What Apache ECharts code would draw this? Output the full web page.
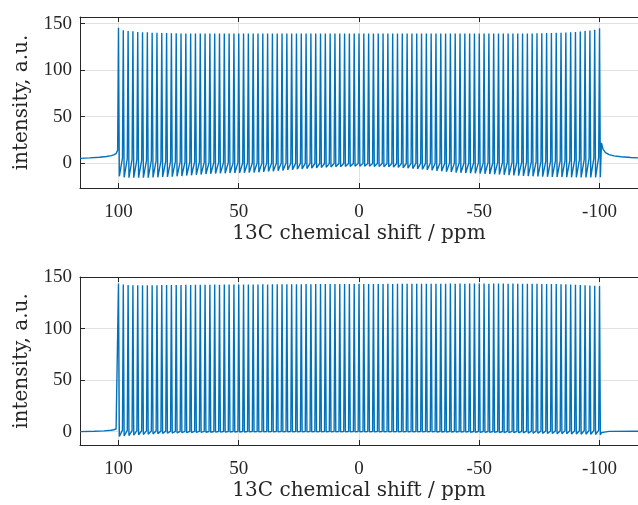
<!DOCTYPE html>
<html><head><meta charset="utf-8">
<script src="https://cdn.jsdelivr.net/npm/echarts@6/dist/echarts.min.js"></script>
<style>html,body{margin:0;padding:0;background:#fff;overflow:hidden}#c{width:638px;height:505px}</style>
</head><body><div id="c"></div>
<script>
// peak positions (ppm)
const peakPpm = [
100,98,96,94,92,90,88,86,84,82,
80,78,76,74,72,70,68,66,64,62,
60,58,56,54,52,50,48,46,44,42,
40,38,36,34,32,30,28,26,24,22,
20,18,16,14,12,10,8,6,4,2,
0,
-2,-4,-6,-8,-10,-12,-14,-16,-18,-20,
-22,-24,-26,-28,-30,-32,-34,-36,-38,-40,
-42,-44,-46,-48,-50,-52,-54,-56,-58,-60,
-62,-64,-66,-68,-70,-72,-74,-76,-78,-80,
-82,-84,-86,-88,-90,-92,-94,-96,-98,-100];

// ---- top spectrum ----
const topHeights = [
145.5,142.8,142.0,141.6,141.0,140.7,140.5,140.2,140.0,139.8,
139.7,139.6,139.5,139.4,139.4,139.3,139.3,139.3,139.2,139.3,
139.3,139.2,139.3,139.3,139.2,139.3,139.3,139.3,139.2,139.3,
139.3,139.3,139.2,139.3,139.3,139.3,139.2,139.3,139.3,139.3,
139.2,139.3,139.3,139.3,139.2,139.3,139.3,139.3,139.3,139.2,
139.3,
139.3,139.2,139.3,139.3,139.3,139.2,139.3,139.3,139.3,139.2,
139.3,139.3,139.3,139.2,139.3,139.3,139.3,139.2,139.3,139.3,
139.3,139.2,139.3,139.3,139.3,139.2,139.3,139.3,139.3,139.3,
139.3,139.3,139.3,139.3,139.3,139.4,139.5,139.6,139.7,139.8,
140.0,140.2,140.4,140.7,141.0,141.4,141.9,142.5,143.2,145.0];
const topDips = [
-14.0,-15.0,-15.5,-15.5,-15.5,-15.5,-15.4,-15.2,-15.0,-14.8,
-14.6,-14.3,-14.0,-13.6,-13.2,-12.8,-12.4,-12.0,-11.6,-11.3,
-11.0,-10.8,-10.6,-10.5,-10.4,-10.3,-10.2,-10.0,-9.8,-9.5,
-9.2,-8.8,-8.4,-8.0,-7.6,-7.2,-6.8,-6.4,-6.0,-5.6,
-5.2,-4.9,-4.6,-4.3,-4.0,-3.8,-3.6,-3.4,-3.3,-3.2,
-3.1,
-3.1,-3.2,-3.3,-3.4,-3.6,-3.8,-4.1,-4.4,-4.8,-5.2,
-5.6,-6.0,-6.5,-7.0,-7.5,-8.0,-8.5,-9.0,-9.4,-9.8,
-10.1,-10.4,-10.6,-10.8,-11.0,-11.2,-11.5,-11.8,-12.1,-12.4,
-12.7,-13.0,-13.3,-13.5,-13.7,-13.9,-14.1,-14.3,-14.5,-14.6,
-14.7,-14.8,-14.9,-15.0,-15.0,-15.1,-15.1,-15.2,-15.2,-15.0];
const topBase = [
14.0,5.5,4.8,4.3,3.9,3.5,3.2,2.9,2.6,2.4,
2.2,2.0,1.8,1.6,1.4,1.3,1.2,1.1,1.0,0.9,
0.8,0.7,0.6,0.6,0.5,0.5,0.4,0.4,0.3,0.3,
0.2,0.2,0.1,0.1,0.0,0.0,0.0,-0.1,-0.1,-0.1,
-0.2,-0.2,-0.2,-0.2,-0.3,-0.3,-0.3,-0.3,-0.3,-0.3,
-0.3,
-0.3,-0.3,-0.3,-0.3,-0.3,-0.3,-0.2,-0.2,-0.2,-0.2,
-0.1,-0.1,-0.1,0.0,0.0,0.0,0.1,0.1,0.2,0.2,
0.3,0.3,0.4,0.4,0.5,0.5,0.6,0.6,0.7,0.8,
0.9,1.0,1.1,1.2,1.3,1.4,1.6,1.8,2.0,2.2,
2.4,2.6,2.9,3.2,3.5,3.9,4.3,4.8,5.5,6.5];
const topLeftTailPpm = [116,112,108,105,103,102,101.5,101,100.7];
const topLeftTailVal = [5.3,5.8,6.5,7.3,8.2,9.0,9.6,10.4,11.5];
const topRightTailPpm = [-100.8,-101.5,-102.5,-104,-106,-109,-113,-116];
const topRightTailVal = [22,15,11.5,9.3,8.0,7.0,6.2,5.8];

// ---- bottom spectrum ----
const botHeights = [
143.6,142.7,142.3,142.0,142.1,142.0,141.9,142.0,142.1,142.2,
142.2,142.3,142.2,142.3,142.4,142.3,142.4,142.5,142.4,142.5,
142.6,142.5,142.6,142.7,142.6,142.7,142.8,142.7,142.8,142.8,
142.9,142.8,142.9,142.9,143.0,142.9,143.0,143.0,143.0,143.1,
143.0,143.1,143.1,143.1,143.2,143.1,143.2,143.2,143.2,143.2,
143.3,
143.2,143.3,143.3,143.3,143.3,143.4,143.3,143.4,143.4,143.4,
143.4,143.5,143.4,143.5,143.5,143.5,143.5,143.5,143.6,143.5,
143.6,143.5,143.6,143.6,143.6,143.6,143.5,143.6,143.6,143.6,
143.5,143.6,143.5,143.5,143.4,143.5,143.4,143.3,143.3,143.2,
143.1,143.0,142.9,142.7,142.5,142.3,142.0,141.8,141.6,141.2];
const botDips = [
-4.8,-4.3,-3.9,-3.5,-3.1,-2.8,-2.5,-2.2,-2.0,-1.8,
-1.6,-1.4,-1.2,-1.1,-1.0,-0.9,-0.8,-0.7,-0.6,-0.6,
-0.5,-0.5,-0.5,-0.4,-0.4,-0.4,-0.4,-0.3,-0.3,-0.3,
-0.3,-0.3,-0.3,-0.3,-0.3,-0.3,-0.3,-0.3,-0.3,-0.3,
-0.3,-0.3,-0.3,-0.3,-0.3,-0.3,-0.3,-0.3,-0.3,-0.3,
-0.3,
-0.3,-0.3,-0.3,-0.3,-0.3,-0.3,-0.3,-0.3,-0.3,-0.3,
-0.3,-0.3,-0.3,-0.3,-0.3,-0.4,-0.4,-0.4,-0.4,-0.5,
-0.5,-0.5,-0.6,-0.6,-0.7,-0.7,-0.8,-0.8,-0.9,-1.0,
-1.0,-1.1,-1.2,-1.3,-1.4,-1.5,-1.6,-1.7,-1.8,-1.9,
-2.0,-2.1,-2.2,-2.3,-2.4,-2.5,-2.6,-2.7,-2.8,-3.2];
const botBase = [
3.2,1.4,1.2,1.0,0.9,0.8,0.7,0.6,0.5,0.5,
0.4,0.4,0.3,0.3,0.3,0.2,0.2,0.2,0.2,0.1,
0.1,0.1,0.1,0.1,0.1,0.1,0.1,0.1,0.1,0.1,
0.1,0.1,0.1,0.1,0.1,0.1,0.1,0.1,0.1,0.1,
0.1,0.1,0.1,0.1,0.1,0.1,0.1,0.1,0.1,0.1,
0.1,
0.1,0.1,0.1,0.1,0.1,0.1,0.1,0.1,0.1,0.1,
0.1,0.1,0.1,0.1,0.1,0.1,0.1,0.1,0.1,0.1,
0.1,0.1,0.1,0.1,0.1,0.1,0.1,0.1,0.1,0.1,
0.2,0.2,0.3,0.3,0.4,0.4,0.5,0.5,0.6,0.6,
0.7,0.7,0.8,0.8,0.9,0.9,1.0,1.0,1.1,1.2];
const botLeftTailPpm = [116,110,106,103,102,101,100.7];
const botLeftTailVal = [0.0,0.3,0.7,1.3,1.8,2.5,3.0];
const botRightTailPpm = [-100.8,-101.5,-104,-116];
const botRightTailVal = [-1.0,0.0,0.2,0.3];

// axis ticks
const xTicks = [100,50,0,-50,-100];
const yTicks = [0,50,100,150];
const xLabel = '13C chemical shift / ppm';
const yLabel = 'intensity, a.u.';

function buildLine(lp, lv, base, heights, dips, rp, rv) {
  const pts = [];
  for (let i = 0; i < lp.length; i++) pts.push([lp[i], lv[i]]);
  for (let i = 0; i < peakPpm.length; i++) {
    const p = peakPpm[i];
    pts.push([p + 0.35, base[i]]);
    pts.push([p, heights[i]]);
    pts.push([p - 0.35, dips[i]]);
  }
  for (let i = 0; i < rp.length; i++) pts.push([rp[i], rv[i]]);
  return pts;
}

const axisColor = '#262626';
const gridColor = '#e1e1e1';
const tickFont = {fontFamily: 'Liberation Serif', fontSize: 19, color: axisColor};
const nameFont = {fontFamily: 'DejaVu Serif', fontSize: 20, color: axisColor};

function xAxes(gi) {
  return [{
    type: 'value', gridIndex: gi, position: 'bottom', inverse: true, min: -116, max: 116,
    name: xLabel, nameLocation: 'middle', nameGap: 36, nameTextStyle: nameFont,
    axisLine: {show: true, onZero: false, lineStyle: {color: axisColor, width: 1}},
    axisTick: {show: true, inside: true, length: 5, customValues: xTicks, lineStyle: {color: axisColor}},
    axisLabel: {show: true, margin: 15, customValues: xTicks, ...tickFont, formatter: v => String(v)},
    splitLine: {show: true, lineStyle: {color: gridColor, width: 1}}
  }, {
    type: 'value', gridIndex: gi, position: 'top', inverse: true, min: -116, max: 116,
    axisLine: {show: true, onZero: false, lineStyle: {color: axisColor, width: 1}},
    axisTick: {show: true, inside: true, length: 5, customValues: xTicks, lineStyle: {color: axisColor}},
    axisLabel: {show: false},
    splitLine: {show: false}
  }];
}
function yAxis(gi, mn, mx) {
  return {
    type: 'value', gridIndex: gi, position: 'left', min: mn, max: mx,
    name: yLabel, nameLocation: 'middle', nameGap: 48, nameRotate: 90, nameTextStyle: nameFont,
    axisLine: {show: true, onZero: false, lineStyle: {color: axisColor, width: 1}},
    axisTick: {show: true, inside: true, length: 5, customValues: yTicks, lineStyle: {color: axisColor}},
    axisLabel: {show: true, margin: 8, customValues: yTicks, ...tickFont},
    splitLine: {show: true, lineStyle: {color: gridColor, width: 1}}
  };
}

const chart = echarts.init(document.getElementById('c'), null, {renderer: 'canvas'});
chart.setOption({
  animation: false,
  backgroundColor: '#ffffff',
  grid: [
    {left: 80, top: 17, right: -7, height: 171},
    {left: 80, top: 277, right: -7, height: 168}
  ],
  xAxis: [...xAxes(0), ...xAxes(1)],
  yAxis: [yAxis(0, -26.5, 157), yAxis(1, -13, 150)],
  series: [{
    type: 'line', xAxisIndex: 0, yAxisIndex: 0, showSymbol: false, silent: true,
    lineStyle: {color: '#0072BD', width: 1.4}, clip: true,
    data: buildLine(topLeftTailPpm, topLeftTailVal, topBase, topHeights, topDips, topRightTailPpm, topRightTailVal)
  }, {
    type: 'line', xAxisIndex: 2, yAxisIndex: 1, showSymbol: false, silent: true,
    lineStyle: {color: '#0072BD', width: 1.4}, clip: true,
    data: buildLine(botLeftTailPpm, botLeftTailVal, botBase, botHeights, botDips, botRightTailPpm, botRightTailVal)
  }]
});
</script></body></html>
